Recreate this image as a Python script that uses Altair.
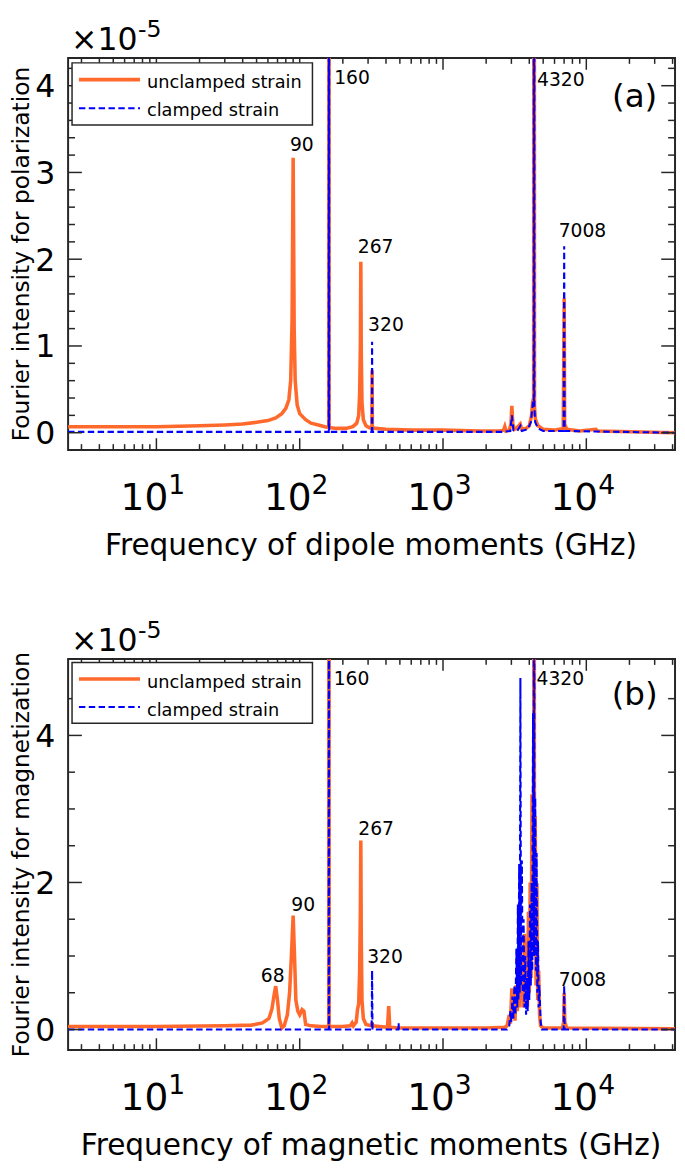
import altair as alt
import pandas as pd

ORANGE = "#FF6A2C"
BLUE = "#0000FF"
INK = "#262626"
FONT = "DejaVu Sans"

X_DOMAIN = [2.42, 41600]
W = 616

# ---------------- shared tick positions / labels ----------------
x_major = [10, 100, 1000, 10000]
x_major_base = ["10", "10", "10", "10"]
x_major_exp = ["1", "2", "3", "4"]
x_minor = [3, 4, 5, 6, 7, 8, 9, 20, 30, 40, 50, 60, 70, 80, 90,
           200, 300, 400, 500, 600, 700, 800, 900,
           2000, 3000, 4000, 5000, 6000, 7000, 8000, 9000,
           20000, 30000, 40000]
legend_names = ["unclamped strain", "clamped strain"]

# ---------------- panel (a): polarization ----------------
a_unc_f = [2.42, 5, 10, 20, 30, 40, 50, 60, 68, 75, 80, 84, 86.5, 88.5, 90, 91.5, 93, 96, 100,
           110, 120, 135, 150, 159.5, 160, 160.5, 180, 210, 235, 250, 258, 262, 265, 267, 269,
           272, 278, 290, 305, 319, 320, 321.5, 340, 400, 600, 1000, 1800, 2500, 2650, 2700,
           2750, 2900, 2980, 3024, 3070, 3150, 3300, 3460, 3550, 3800, 4000, 4150, 4215, 4290,
           4320, 4350, 4420, 4600, 5000, 6000, 6900, 7008, 7060, 7300, 9000, 11670, 12000, 41600]
a_unc_v = [0.07, 0.07, 0.07, 0.08, 0.09, 0.10, 0.12, 0.14, 0.17, 0.22, 0.28, 0.38, 0.60, 1.30, 3.17, 1.20,
           0.60, 0.32, 0.22, 0.15, 0.11, 0.09, 0.07, 0.06, 14.0, 0.06, 0.05, 0.05, 0.07, 0.11, 0.20,
           0.45, 1.00, 1.97, 0.90, 0.35, 0.15, 0.08, 0.06, 0.05, 0.72, 0.06, 0.05, 0.04, 0.03, 0.03,
           0.02, 0.02, 0.03, 0.07, 0.02, 0.03, 0.10, 0.31, 0.10, 0.04, 0.06, 0.10, 0.04, 0.05, 0.08,
           0.20, 0.35, 0.40, 14.0, 0.30, 0.15, 0.08, 0.04, 0.03, 0.05, 1.55, 0.10, 0.04, 0.02, 0.04,
           0.02, 0.00]
a_cl_f = [2.42, 100, 159.5, 160, 160.5, 318.5, 320, 321.5, 1000, 2600, 2950, 3024, 3100, 3300, 3467,
          3550, 3900, 4100, 4180, 4250, 4300, 4320, 4340, 4400, 4600, 5000, 6950, 7008, 7060, 41600]
a_cl_v = [0.01, 0.01, 0.01, 14.0, 0.01, 0.01, 1.05, 0.01, 0.01, 0.01, 0.02, 0.20, 0.03, 0.02, 0.08,
          0.02, 0.04, 0.12, 0.25, 0.37, 0.30, 14.0, 0.30, 0.12, 0.05, 0.02, 0.02, 2.15, 0.02, 0.00]
a_lab_t = ["90", "160", "267", "320", "4320", "7008"]
a_lab_f = [103.4, 231.7, 338.8, 400, 6637, 9398]
a_lab_v = [3.25, 4.02, 2.07, 1.17, 4.00, 2.26]
a_tag = "(a)"
a_tag_f = 21740
a_tag_v = 3.76
a_y_major = [0, 1, 2, 3, 4]
a_y_major_lab = ["0", "1", "2", "3", "4"]
a_y_minor = [0.2, 0.4, 0.6, 0.8, 1.2, 1.4, 1.6, 1.8, 2.2, 2.4, 2.6, 2.8, 3.2, 3.4, 3.6, 3.8, 4.2]
a_y_domain = [-0.2, 4.32]
a_ytitle = "Fourier intensity for polarization"
a_xtitle = "Frequency of dipole moments (GHz)"

# ---------------- panel (b): magnetization ----------------
b_unc_f = [2.42, 10, 30, 46, 55, 61, 64, 66, 68, 70, 72, 75, 78, 82, 85, 87.5, 90, 92, 94, 97, 100,
           104, 107, 110, 120, 140, 159.5, 160, 160.5, 200, 225, 232, 237, 248, 253, 258, 262, 265,
           267, 269, 272, 278, 290, 318, 320, 323, 360, 410, 418, 425, 500, 1000, 2000, 2700, 2800,
           2900, 2950, 3024, 3080, 3130, 3180, 3230, 3300, 3350, 3400, 3450, 3500, 3560, 3620, 3700,
           3760, 3820, 3880, 3950, 4000, 4060, 4120, 4180, 4240, 4300, 4320, 4345, 4400, 4460, 4520,
           4580, 4650, 4720, 4800, 5000, 6800, 6950, 7008, 7080, 7300, 41600]
b_unc_v = [0.04, 0.04, 0.05, 0.06, 0.09, 0.15, 0.28, 0.45, 0.59, 0.40, 0.15, 0.02, 0.05, 0.20, 0.50,
           1.00, 1.55, 1.00, 0.40, 0.25, 0.20, 0.27, 0.25, 0.07, 0.05, 0.04, 0.04, 14.0, 0.04, 0.04,
           0.05, 0.09, 0.05, 0.10, 0.27, 0.35, 0.80, 1.60, 2.57, 1.20, 0.40, 0.15, 0.07, 0.05, 0.10,
           0.05, 0.04, 0.03, 0.32, 0.03, 0.02, 0.02, 0.02, 0.03, 0.05, 0.20, 0.08, 0.56, 0.15, 0.45,
           0.12, 0.60, 0.25, 0.90, 0.30, 1.10, 0.40, 0.90, 0.30, 1.30, 0.40, 1.00, 0.30, 1.60, 0.50,
           2.00, 0.70, 3.20, 1.20, 4.00, 14.0, 1.50, 2.90, 0.60, 1.99, 0.40, 0.80, 0.20, 0.05, 0.02,
           0.02, 0.10, 0.50, 0.10, 0.02, 0.01]
b_cl_f = [2.42, 100, 159.5, 160, 160.5, 318, 320, 322, 488, 490, 492, 1000, 2800, 2900, 2950, 3000,
          3050, 3100, 3150, 3200, 3250, 3300, 3330, 3360, 3400, 3430, 3467, 3500, 3550, 3600, 3650,
          3700, 3750, 3800, 3850, 3900, 3950, 4000, 4050, 4100, 4150, 4200, 4250, 4300, 4320, 4340,
          4400, 4450, 4500, 4550, 4600, 4650, 4700, 4800, 4900, 6950, 7008, 7060, 41600]
b_cl_v = [0.00, 0.00, 0.00, 14.0, 0.00, 0.00, 0.80, 0.00, 0.00, 0.09, 0.00, 0.00, 0.00, 0.05, 0.25,
          0.10, 0.45, 0.15, 0.60, 0.20, 1.10, 0.30, 1.70, 0.40, 2.25, 0.50, 4.78, 0.60, 2.30, 0.50,
          1.50, 0.30, 1.00, 0.20, 0.70, 0.25, 1.20, 0.40, 1.70, 0.60, 2.00, 0.80, 4.30, 1.00, 14.0,
          1.00, 3.15, 0.80, 2.40, 0.50, 1.20, 0.30, 0.60, 0.10, 0.00, 0.00, 0.60, 0.00, 0.00]
b_lab_t = ["68", "90", "160", "267", "320", "4320", "7008"]
b_lab_f = [64.8, 105.9, 229.8, 341.4, 393.8, 6587, 9398]
b_lab_v = [0.64, 1.61, 4.68, 2.65, 0.91, 4.68, 0.59]
b_tag = "(b)"
b_tag_f = 21740
b_tag_v = 4.42
b_y_major = [0, 2, 4]
b_y_major_lab = ["0", "2", "4"]
b_y_minor = [0.5, 1.0, 1.5, 2.5, 3.0, 3.5, 4.5]
b_y_domain = [-0.28, 5.04]
b_ytitle = "Fourier intensity for magnetization"
b_xtitle = "Frequency of magnetic moments (GHz)"


def panel(unc_f, unc_v, cl_f, cl_v, lab_t, lab_f, lab_v, tag, tag_f, tag_v,
          y_major, y_major_lab, y_minor, y_domain, ytitle, xtitle, H, leg):
    xs = alt.Scale(type="log", domain=X_DOMAIN, nice=False)
    ys = alt.Scale(domain=y_domain, nice=False, zero=False)

    def X():
        return alt.X("f:Q", scale=xs, axis=None)

    def Y():
        return alt.Y("v:Q", scale=ys, axis=None)

    unc = alt.Chart(pd.DataFrame({"f": unc_f, "v": unc_v})).mark_line(
        color=ORANGE, strokeWidth=3.6, clip=True).encode(x=X(), y=Y())
    cl = alt.Chart(pd.DataFrame({"f": cl_f, "v": cl_v})).mark_line(
        color=BLUE, strokeWidth=2.1, strokeDash=[6.5, 3.5], clip=True).encode(x=X(), y=Y())

    xmaj = pd.DataFrame({"f": x_major, "b": x_major_base, "e": x_major_exp})
    xmin = pd.DataFrame({"f": x_minor})
    ymaj = pd.DataFrame({"v": y_major, "t": y_major_lab})
    ymin = pd.DataFrame({"v": y_minor})
    tick = dict(color=INK, strokeWidth=1.5)
    ticks = [
        alt.Chart(xmaj).mark_rule(**tick).encode(x=X(), y=alt.value(H), y2=alt.value(H - 12)),
        alt.Chart(xmaj).mark_rule(**tick).encode(x=X(), y=alt.value(0), y2=alt.value(12)),
        alt.Chart(xmin).mark_rule(**tick).encode(x=X(), y=alt.value(H), y2=alt.value(H - 6)),
        alt.Chart(xmin).mark_rule(**tick).encode(x=X(), y=alt.value(0), y2=alt.value(6)),
        alt.Chart(ymaj).mark_rule(**tick).encode(y=Y(), x=alt.value(0), x2=alt.value(14)),
        alt.Chart(ymaj).mark_rule(**tick).encode(y=Y(), x=alt.value(W), x2=alt.value(W - 14)),
        alt.Chart(ymin).mark_rule(**tick).encode(y=Y(), x=alt.value(0), x2=alt.value(7)),
        alt.Chart(ymin).mark_rule(**tick).encode(y=Y(), x=alt.value(W), x2=alt.value(W - 7)),
    ]
    txt = dict(font=FONT, color="#000000")
    xlab_base = alt.Chart(xmaj).mark_text(fontSize=38, align="right", baseline="alphabetic",
                                          dx=12, **txt).encode(x=X(), y=alt.value(H + 61), text="b:N")
    xlab_exp = alt.Chart(xmaj).mark_text(fontSize=27, align="left", baseline="alphabetic",
                                         dx=12, **txt).encode(x=X(), y=alt.value(H + 44.7), text="e:N")
    ylab = alt.Chart(ymaj).mark_text(fontSize=32, align="right", baseline="alphabetic",
                                     dy=11.5, **txt).encode(y=Y(), x=alt.value(-13), text="t:N")
    ytit = alt.Chart(pd.DataFrame({"t": [ytitle]})).mark_text(
        fontSize=23.7, angle=270, align="center", baseline="alphabetic", **txt).encode(
        x=alt.value(-40), y=alt.value(H / 2), text="t:N")
    xtit = alt.Chart(pd.DataFrame({"t": [xtitle]})).mark_text(
        fontSize=30, align="center", baseline="alphabetic", **txt).encode(
        x=alt.value(307.5), y=alt.value(H + 106), text="t:N")
    mult = alt.Chart(pd.DataFrame({"t": ["\u00d710"]})).mark_text(
        fontSize=32, align="left", baseline="alphabetic", **txt).encode(
        x=alt.value(3), y=alt.value(-8), text="t:N")
    mexp = alt.Chart(pd.DataFrame({"t": ["-5"]})).mark_text(
        fontSize=24, align="left", baseline="alphabetic", **txt).encode(
        x=alt.value(71), y=alt.value(-21.5), text="t:N")
    labs = alt.Chart(pd.DataFrame({"f": lab_f, "v": lab_v, "t": lab_t})).mark_text(
        fontSize=19, align="center", baseline="alphabetic", **txt).encode(x=X(), y=Y(), text="t:N")
    tagc = alt.Chart(pd.DataFrame({"f": [tag_f], "v": [tag_v], "t": [tag]})).mark_text(
        fontSize=33, align="center", baseline="alphabetic", **txt).encode(x=X(), y=Y(), text="t:N")

    top, bot, l1, l2, t1, t2 = leg
    one = pd.DataFrame({"t": legend_names})
    box = alt.Chart(one.head(1)).mark_rect(fill="white", stroke=INK, strokeWidth=1.5).encode(
        x=alt.value(4), x2=alt.value(248), y=alt.value(top), y2=alt.value(bot))
    lu = alt.Chart(one.head(1)).mark_rule(color=ORANGE, strokeWidth=3.6).encode(
        x=alt.value(11), x2=alt.value(73), y=alt.value(l1))
    lc = alt.Chart(one.head(1)).mark_rule(color=BLUE, strokeWidth=2.1, strokeDash=[6.5, 3.5]).encode(
        x=alt.value(11), x2=alt.value(73), y=alt.value(l2))
    tu = alt.Chart(one.iloc[[0]]).mark_text(fontSize=18, align="left", baseline="alphabetic", **txt).encode(
        x=alt.value(80), y=alt.value(t1), text="t:N")
    tc = alt.Chart(one.iloc[[1]]).mark_text(fontSize=18, align="left", baseline="alphabetic", **txt).encode(
        x=alt.value(80), y=alt.value(t2), text="t:N")

    return alt.layer(unc, cl, *ticks, xlab_base, xlab_exp, ylab, ytit, xtit, mult, mexp,
                     labs, tagc, box, lu, lc, tu, tc).properties(width=W, height=H)


pa = panel(a_unc_f, a_unc_v, a_cl_f, a_cl_v, a_lab_t, a_lab_f, a_lab_v, a_tag, a_tag_f, a_tag_v,
           a_y_major, a_y_major_lab, a_y_minor, a_y_domain, a_ytitle, a_xtitle, 398,
           (5, 68, 22, 51, 31, 59))
pb = panel(b_unc_f, b_unc_v, b_cl_f, b_cl_v, b_lab_t, b_lab_f, b_lab_v, b_tag, b_tag_f, b_tag_v,
           b_y_major, b_y_major_lab, b_y_minor, b_y_domain, b_ytitle, b_xtitle, 397,
           (3.7, 65.3, 20.3, 48.7, 29, 57.7))

chart = alt.vconcat(pa, pb, spacing=212, bounds="flush").resolve_scale(
    x="independent", y="independent").properties(padding=0).configure_view(
    stroke=INK, strokeWidth=2)

chart.save("out.html", embed_options={"renderer": "svg", "actions": False})
